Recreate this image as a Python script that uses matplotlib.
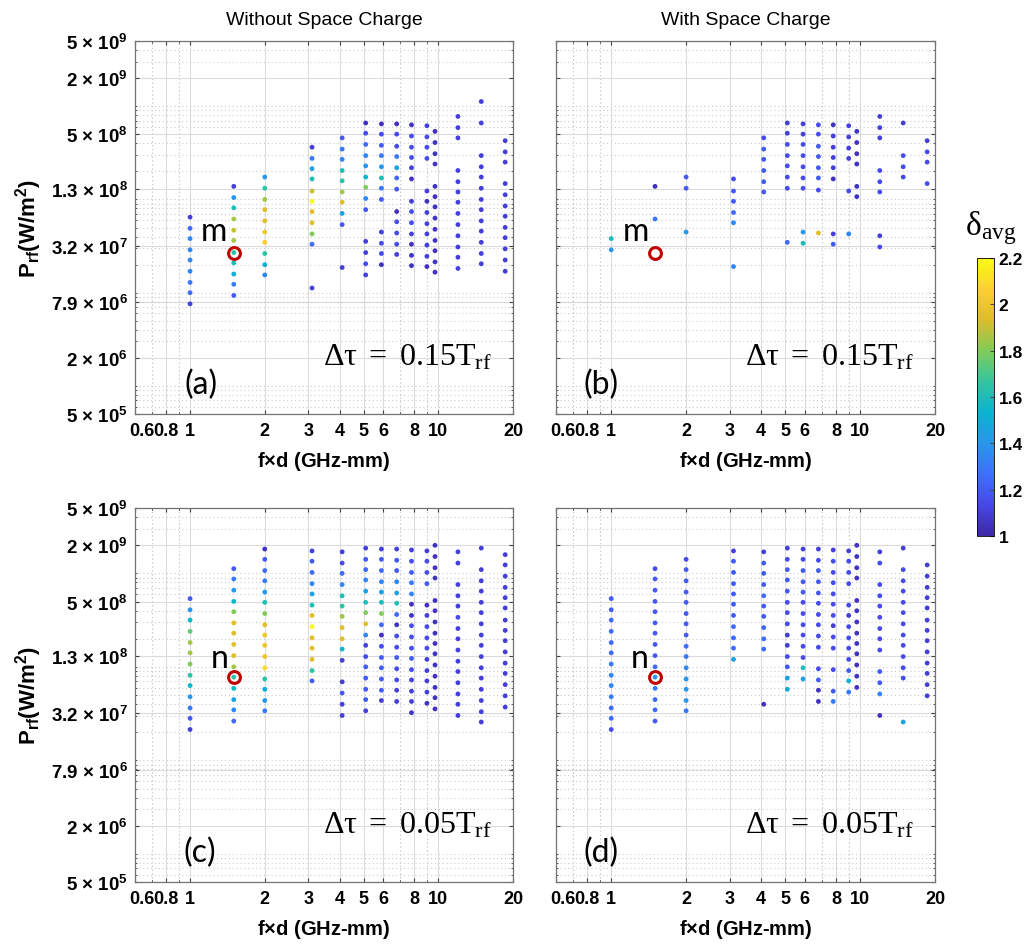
import matplotlib
matplotlib.use("Agg")
import matplotlib.pyplot as plt
import numpy as np
from matplotlib.colors import LinearSegmentedColormap
from matplotlib.ticker import FixedLocator, LogLocator, NullFormatter
from matplotlib.transforms import ScaledTranslation

plt.rcParams['font.family'] = ['Liberation Sans', 'DejaVu Sans']
plt.rcParams['mathtext.fontset'] = 'custom'
plt.rcParams['mathtext.rm'] = 'Liberation Serif'
plt.rcParams['mathtext.it'] = 'Liberation Serif:italic'
plt.rcParams['mathtext.bf'] = 'Liberation Sans:bold'
plt.rcParams['mathtext.default'] = 'bf'

# f x d columns (GHz-mm)
fd = [1.0, 1.5, 2.0, 3.1, 4.1, 5.1, 5.9, 6.8, 7.8, 9.0, 9.7, 12.0, 14.9, 18.6]

# (a) without space charge, dtau = 0.15 Trf : log10(P_rf) per column
logp_a = [
    [7.81, 7.69, 7.58, 7.46, 7.35, 7.23, 7.11, 7.00, 6.88],
    [8.14, 8.02, 7.91, 7.79, 7.67, 7.56, 7.43, 7.32, 7.20, 7.09, 6.97],
    [8.24, 8.12, 8.00, 7.89, 7.77, 7.65, 7.54, 7.42, 7.30, 7.19],
    [8.56, 8.44, 8.33, 8.22, 8.09, 7.98, 7.87, 7.75, 7.63, 7.52, 7.05],
    [8.66, 8.54, 8.43, 8.31, 8.20, 8.08, 7.97, 7.85, 7.73, 7.27],
    [8.82, 8.71, 8.59, 8.47, 8.36, 8.24, 8.13, 8.01, 7.89, 7.55, 7.43, 7.31, 7.19],
    [8.81, 8.70, 8.58, 8.47, 8.35, 8.23, 8.12, 8.00, 7.65, 7.53, 7.42, 7.30],
    [8.81, 8.70, 8.57, 8.46, 8.34, 8.23, 8.11, 7.87, 7.76, 7.64, 7.52, 7.41],
    [8.80, 8.68, 8.56, 8.45, 8.34, 8.22, 7.98, 7.87, 7.75, 7.63, 7.52, 7.40, 7.29],
    [8.79, 8.67, 8.56, 8.44, 8.09, 7.98, 7.86, 7.74, 7.63, 7.51, 7.39, 7.28],
    [8.73, 8.61, 8.49, 8.38, 8.14, 8.03, 7.92, 7.80, 7.68, 7.56, 7.45, 7.33, 7.22],
    [8.89, 8.77, 8.66, 8.31, 8.19, 8.08, 7.97, 7.85, 7.73, 7.61, 7.49, 7.38, 7.26],
    [9.05, 8.82, 8.47, 8.35, 8.24, 8.12, 8.00, 7.89, 7.77, 7.66, 7.54, 7.42, 7.31],
    [8.63, 8.51, 8.40, 8.17, 8.05, 7.93, 7.82, 7.70, 7.59, 7.47, 7.35, 7.23],
]
delta_a = [
    [1.10, 1.25, 1.35, 1.35, 1.35, 1.35, 1.30, 1.25, 1.10],
    [1.10, 1.40, 1.60, 1.85, 1.90, 1.85, 1.65, 1.60, 1.50, 1.30, 1.20],
    [1.40, 1.65, 1.85, 1.95, 1.95, 2.00, 2.05, 1.65, 1.50, 1.35],
    [1.10, 1.30, 1.45, 1.60, 1.90, 2.20, 1.95, 1.95, 1.80, 1.25, 1.10],
    [1.20, 1.30, 1.35, 1.60, 1.65, 1.85, 1.95, 1.45, 1.20, 1.10],
    [1.05, 1.15, 1.25, 1.35, 1.40, 1.55, 1.80, 1.35, 1.20, 1.10, 1.10, 1.15, 1.10],
    [1.05, 1.15, 1.20, 1.30, 1.40, 1.60, 1.30, 1.20, 1.10, 1.15, 1.15, 1.05],
    [1.05, 1.15, 1.15, 1.30, 1.45, 1.25, 1.20, 1.05, 1.15, 1.15, 1.15, 1.10],
    [1.05, 1.15, 1.15, 1.15, 1.10, 1.05, 1.10, 1.15, 1.15, 1.10, 1.05, 1.05, 1.05],
    [1.10, 1.15, 1.15, 1.15, 1.10, 1.05, 1.10, 1.10, 1.10, 1.10, 1.10, 1.05],
    [1.05, 1.05, 1.05, 1.05, 1.05, 1.05, 1.05, 1.05, 1.05, 1.05, 1.05, 1.05, 1.05],
    [1.10, 1.10, 1.10, 1.10, 1.10, 1.10, 1.10, 1.10, 1.10, 1.10, 1.10, 1.10, 1.10],
    [1.10, 1.10, 1.10, 1.10, 1.10, 1.10, 1.10, 1.10, 1.10, 1.10, 1.10, 1.10, 1.10],
    [1.10, 1.10, 1.10, 1.10, 1.10, 1.10, 1.10, 1.10, 1.10, 1.10, 1.10, 1.10],
]

# (b) with space charge, dtau = 0.15 Trf
logp_b = [
    [7.58, 7.46],
    [8.14, 7.79],
    [8.24, 8.12, 7.65],
    [8.22, 8.09, 7.98, 7.86, 7.75, 7.28],
    [8.66, 8.54, 8.43, 8.31, 8.19, 8.08],
    [8.82, 8.71, 8.59, 8.47, 8.36, 8.24, 8.12, 7.54],
    [8.81, 8.70, 8.59, 8.47, 8.35, 8.23, 8.12, 7.65, 7.53],
    [8.80, 8.70, 8.57, 8.46, 8.34, 8.23, 8.10, 7.64],
    [8.80, 8.68, 8.56, 8.45, 8.34, 8.22, 7.63, 7.52],
    [8.79, 8.67, 8.55, 8.44, 8.09, 7.63],
    [8.73, 8.61, 8.49, 8.38, 8.14, 8.03],
    [8.89, 8.77, 8.66, 8.31, 8.19, 8.08, 7.61, 7.49],
    [8.82, 8.47, 8.35, 8.24],
    [8.63, 8.51, 8.40, 8.17],
]
delta_b = [
    [1.60, 1.40],
    [1.05, 1.30],
    [1.20, 1.20, 1.40],
    [1.15, 1.20, 1.20, 1.25, 1.35, 1.35],
    [1.15, 1.20, 1.20, 1.20, 1.20, 1.20],
    [1.10, 1.10, 1.15, 1.15, 1.15, 1.15, 1.15, 1.25],
    [1.10, 1.10, 1.15, 1.15, 1.15, 1.15, 1.15, 1.40, 1.60],
    [1.15, 1.15, 1.20, 1.20, 1.20, 1.20, 1.15, 1.95],
    [1.05, 1.10, 1.10, 1.10, 1.10, 1.05, 1.10, 1.20],
    [1.10, 1.10, 1.10, 1.10, 1.15, 1.35],
    [1.05, 1.05, 1.05, 1.05, 1.05, 1.05],
    [1.10, 1.10, 1.10, 1.15, 1.15, 1.15, 1.10, 1.15],
    [1.10, 1.15, 1.15, 1.15],
    [1.10, 1.15, 1.15, 1.15],
]

# (c) without space charge, dtau = 0.05 Trf
logp_c = [
    [8.73, 8.61, 8.50, 8.38, 8.26, 8.15, 8.03, 7.91, 7.80, 7.68, 7.56, 7.45, 7.33],
    [9.05, 8.94, 8.82, 8.70, 8.59, 8.47, 8.36, 8.24, 8.12, 8.00, 7.89, 7.77, 7.65, 7.54, 7.42],
    [9.26, 9.15, 9.03, 8.92, 8.80, 8.69, 8.57, 8.45, 8.34, 8.23, 8.11, 7.99, 7.87, 7.76, 7.64, 7.53],
    [9.24, 9.13, 9.01, 8.89, 8.78, 8.66, 8.55, 8.43, 8.31, 8.20, 8.08, 7.96, 7.85],
    [9.23, 9.11, 9.00, 8.88, 8.76, 8.65, 8.54, 8.42, 8.30, 8.19, 8.07, 7.84, 7.72, 7.60, 7.48],
    [9.27, 9.15, 9.04, 8.93, 8.81, 8.69, 8.58, 8.46, 8.34, 8.23, 8.11, 8.00, 7.88, 7.76, 7.65, 7.53],
    [9.26, 9.15, 9.03, 8.91, 8.80, 8.69, 8.57, 8.45, 8.34, 8.22, 8.10, 7.99, 7.87, 7.75, 7.64],
    [9.26, 9.14, 9.03, 8.91, 8.79, 8.68, 8.56, 8.45, 8.33, 8.21, 8.10, 7.98, 7.86, 7.75, 7.63],
    [9.25, 9.13, 9.01, 8.90, 8.78, 8.67, 8.55, 8.44, 8.32, 8.20, 8.09, 7.97, 7.86, 7.74, 7.63, 7.51],
    [9.24, 9.13, 9.01, 8.89, 8.66, 8.55, 8.43, 8.31, 8.20, 8.08, 7.96, 7.85, 7.73, 7.61],
    [9.30, 9.18, 9.06, 8.95, 8.71, 8.60, 8.48, 8.36, 8.25, 8.14, 8.02, 7.90, 7.78, 7.67, 7.55],
    [9.23, 9.11, 8.88, 8.76, 8.65, 8.53, 8.41, 8.30, 8.18, 8.06, 7.95, 7.83, 7.71, 7.60, 7.48],
    [9.27, 9.04, 8.92, 8.81, 8.69, 8.58, 8.46, 8.34, 8.23, 8.11, 7.99, 7.88, 7.76, 7.64, 7.52, 7.41],
    [9.20, 9.09, 8.97, 8.85, 8.74, 8.63, 8.50, 8.39, 8.28, 8.16, 8.04, 7.93, 7.81, 7.69, 7.57],
]
delta_c = [
    [1.20, 1.40, 1.55, 1.75, 1.85, 1.85, 1.80, 1.65, 1.55, 1.40, 1.30, 1.20, 1.10],
    [1.20, 1.30, 1.40, 1.55, 1.80, 1.95, 1.95, 1.95, 1.95, 1.85, 1.65, 1.55, 1.45, 1.35, 1.25],
    [1.05, 1.20, 1.25, 1.30, 1.40, 1.60, 1.80, 1.95, 2.00, 2.00, 2.00, 2.10, 1.65, 1.50, 1.40, 1.30],
    [1.10, 1.20, 1.25, 1.35, 1.45, 1.60, 1.95, 2.20, 1.95, 1.95, 1.95, 1.65, 1.20],
    [1.10, 1.15, 1.25, 1.35, 1.60, 1.65, 1.85, 1.95, 1.95, 1.55, 1.10, 1.10, 1.20, 1.10, 1.10],
    [1.10, 1.20, 1.25, 1.35, 1.45, 1.60, 1.80, 1.95, 1.35, 1.10, 1.15, 1.20, 1.20, 1.20, 1.20, 1.10],
    [1.10, 1.20, 1.25, 1.35, 1.45, 1.60, 1.80, 1.25, 1.05, 1.15, 1.20, 1.20, 1.20, 1.20, 1.10],
    [1.10, 1.20, 1.20, 1.35, 1.45, 1.60, 1.25, 1.05, 1.15, 1.15, 1.20, 1.15, 1.15, 1.10, 1.10],
    [1.10, 1.15, 1.20, 1.30, 1.35, 1.05, 1.05, 1.15, 1.15, 1.15, 1.20, 1.15, 1.10, 1.10, 1.10, 1.05],
    [1.10, 1.15, 1.15, 1.20, 1.05, 1.10, 1.15, 1.15, 1.15, 1.10, 1.10, 1.10, 1.10, 1.05],
    [1.05, 1.05, 1.05, 1.05, 1.05, 1.05, 1.05, 1.05, 1.05, 1.05, 1.05, 1.05, 1.05, 1.05, 1.05],
    [1.10, 1.10, 1.10, 1.10, 1.10, 1.15, 1.10, 1.10, 1.10, 1.10, 1.10, 1.10, 1.10, 1.10, 1.10],
    [1.10, 1.10, 1.10, 1.10, 1.10, 1.10, 1.10, 1.10, 1.10, 1.10, 1.10, 1.10, 1.10, 1.10, 1.10, 1.10],
    [1.10, 1.10, 1.10, 1.10, 1.10, 1.10, 1.10, 1.10, 1.10, 1.10, 1.10, 1.10, 1.10, 1.10, 1.10],
]

# (d) with space charge, dtau = 0.05 Trf
logp_d = [
    [8.73, 8.61, 8.50, 8.38, 8.26, 8.15, 8.03, 7.91, 7.80, 7.68, 7.56, 7.45, 7.33],
    [9.05, 8.94, 8.82, 8.70, 8.59, 8.47, 8.36, 8.24, 8.12, 8.00, 7.89, 7.77, 7.65, 7.54, 7.42],
    [9.15, 9.04, 8.92, 8.80, 8.69, 8.57, 8.46, 8.34, 8.22, 8.11, 7.99, 7.87, 7.76, 7.64, 7.53],
    [9.24, 9.13, 9.01, 8.89, 8.78, 8.67, 8.55, 8.43, 8.31, 8.20, 8.08],
    [9.23, 9.11, 9.00, 8.88, 8.76, 8.65, 8.54, 8.42, 8.30, 8.19, 7.60],
    [9.27, 9.15, 9.04, 8.93, 8.81, 8.69, 8.58, 8.46, 8.34, 8.23, 8.11, 8.00, 7.88, 7.76],
    [9.26, 9.15, 9.03, 8.91, 8.80, 8.69, 8.57, 8.45, 8.34, 8.22, 8.10, 7.99, 7.87],
    [9.26, 9.14, 9.03, 8.91, 8.79, 8.68, 8.56, 8.45, 8.33, 8.21, 7.98, 7.86, 7.75, 7.63],
    [9.25, 9.13, 9.01, 8.90, 8.78, 8.67, 8.55, 8.44, 8.32, 8.20, 7.97, 7.74, 7.63],
    [9.24, 9.13, 9.01, 8.89, 8.66, 8.55, 8.43, 8.31, 8.20, 8.08, 7.96, 7.85, 7.73],
    [9.30, 9.18, 9.06, 8.95, 8.71, 8.60, 8.48, 8.36, 8.25, 8.14, 8.02, 7.90, 7.78],
    [9.23, 9.11, 8.88, 8.76, 8.65, 8.53, 8.41, 8.30, 8.18, 7.95, 7.83, 7.71, 7.48],
    [9.27, 9.04, 8.92, 8.81, 8.69, 8.58, 8.46, 8.34, 8.23, 8.11, 7.99, 7.88, 7.41],
    [9.09, 8.97, 8.85, 8.74, 8.63, 8.50, 8.39, 8.28, 8.16, 8.04, 7.93, 7.81, 7.69],
]
delta_d = [
    [1.20, 1.20, 1.25, 1.25, 1.25, 1.25, 1.30, 1.35, 1.35, 1.30, 1.25, 1.25, 1.15],
    [1.15, 1.20, 1.20, 1.20, 1.20, 1.20, 1.20, 1.20, 1.20, 1.25, 1.40, 1.30, 1.25, 1.25, 1.20],
    [1.15, 1.20, 1.20, 1.20, 1.20, 1.20, 1.20, 1.20, 1.25, 1.30, 1.35, 1.40, 1.40, 1.40, 1.30],
    [1.10, 1.20, 1.20, 1.20, 1.20, 1.20, 1.20, 1.25, 1.25, 1.25, 1.45],
    [1.10, 1.20, 1.20, 1.20, 1.25, 1.20, 1.20, 1.25, 1.25, 1.25, 1.05],
    [1.10, 1.15, 1.20, 1.20, 1.20, 1.15, 1.15, 1.15, 1.10, 1.10, 1.15, 1.20, 1.45, 1.50],
    [1.10, 1.15, 1.20, 1.20, 1.20, 1.15, 1.15, 1.15, 1.15, 1.15, 1.15, 1.60, 1.45],
    [1.10, 1.15, 1.20, 1.20, 1.20, 1.15, 1.15, 1.15, 1.15, 1.15, 1.15, 1.20, 1.05, 1.05],
    [1.10, 1.15, 1.15, 1.15, 1.15, 1.15, 1.15, 1.10, 1.15, 1.15, 1.15, 1.20, 1.30],
    [1.10, 1.15, 1.15, 1.15, 1.15, 1.10, 1.15, 1.15, 1.15, 1.15, 1.20, 1.50, 1.30],
    [1.05, 1.05, 1.05, 1.05, 1.05, 1.05, 1.05, 1.05, 1.05, 1.05, 1.05, 1.05, 1.05],
    [1.10, 1.15, 1.15, 1.15, 1.15, 1.15, 1.15, 1.15, 1.15, 1.20, 1.20, 1.35, 1.05],
    [1.10, 1.15, 1.15, 1.15, 1.15, 1.15, 1.15, 1.15, 1.15, 1.15, 1.15, 1.15, 1.45],
    [1.10, 1.10, 1.10, 1.10, 1.10, 1.10, 1.10, 1.10, 1.10, 1.10, 1.10, 1.10, 1.10],
]

# highlighted cases m and n
mark_fd = 1.5
mark_m_logp = 7.43
mark_n_logp = 7.89

ytick_vals = [5e5, 2e6, 7.9e6, 3.2e7, 1.3e8, 5e8, 2e9, 5e9]
ytick_labels = ['5 × 10$^{5}$', '2 × 10$^{6}$', '7.9 × 10$^{6}$',
                '3.2 × 10$^{7}$', '1.3 × 10$^{8}$', '5 × 10$^{8}$',
                '2 × 10$^{9}$', '5 × 10$^{9}$']
xtick_vals = [0.6, 0.8, 1, 2, 3, 4, 5, 6, 8, 10, 20]
xtick_labels = ['0.6', '0.8', '1', '2', '3', '4', '5', '6', '8', '10', '20']
cbar_ticks = [1, 1.2, 1.4, 1.6, 1.8, 2, 2.2]

parula = LinearSegmentedColormap.from_list('parula', [
    (0.2422, 0.1504, 0.6603), (0.2803, 0.2782, 0.9221), (0.2440, 0.4358, 0.9988),
    (0.1540, 0.5902, 0.9218), (0.0297, 0.7082, 0.8163), (0.1938, 0.7758, 0.6251),
    (0.5044, 0.7993, 0.3480), (0.8634, 0.7406, 0.1596), (0.9892, 0.8136, 0.1885),
    (0.9769, 0.9839, 0.0805)])

fig = plt.figure(figsize=(10.27, 9.45), dpi=100)
W, H = 1027, 945
boxes = {'a': (135, 42, 513, 415), 'b': (556, 42, 935, 415),
         'c': (135, 509, 513, 883), 'd': (556, 509, 935, 883)}

def make_ax(key):
    l, t, r, b = boxes[key]
    return fig.add_axes([l / W, 1 - b / H, (r - l) / W, (b - t) / H])

def panel(ax, logp, delta, tag, dtau, lab, lab_xy, mark_logp, tag_x):
    xs, ys, cs = [], [], []
    for f, lp, dl in zip(fd, logp, delta):
        assert len(lp) == len(dl)
        xs += [f] * len(lp)
        ys += [10 ** v for v in lp]
        cs += dl
    ax.set_xscale('log')
    ax.set_yscale('log')
    ax.set_xlim(0.6, 20)
    ax.set_ylim(5e5, 5e9)
    ax.set_axisbelow(True)
    ax.grid(True, which='major', color='0.86', lw=0.8, ls='-')
    ax.grid(True, which='minor', color='0.80', lw=0.8, ls=(0, (1, 2.5)))
    sc = ax.scatter(xs, ys, c=cs, cmap=parula, vmin=1, vmax=2.2, s=12,
                    edgecolors='none', zorder=3)
    ax.plot([mark_fd], [10 ** mark_logp], 'o', mfc='none', mec='#c00000',
            ms=8.5, mew=2.2, zorder=4)
    ax.xaxis.set_major_locator(FixedLocator(xtick_vals))
    ax.xaxis.set_minor_locator(LogLocator(base=10, subs=(0.7, 0.9, 7, 9)))
    ax.xaxis.set_minor_formatter(NullFormatter())
    ax.yaxis.set_major_locator(FixedLocator(ytick_vals))
    ax.yaxis.set_minor_locator(LogLocator(base=10, subs=np.arange(1, 10)))
    ax.yaxis.set_minor_formatter(NullFormatter())
    ax.tick_params(which='both', direction='in', top=True, right=True,
                   color='0.25', length=3)
    ax.tick_params(which='minor', length=1.5)
    ax.tick_params(axis='x', which='major', pad=6)
    ax.tick_params(axis='y', which='major', pad=5)
    ax.set_xticklabels(xtick_labels, fontweight='bold', fontsize=13)
    ax.set_yticklabels(ytick_labels, fontweight='bold', fontsize=13.5)
    # the 0.6 label sits a little right of the axis corner
    first = ax.get_xticklabels()[0]
    first.set_transform(first.get_transform() +
                        ScaledTranslation(7 / 100, 0, fig.dpi_scale_trans))
    for s in ax.spines.values():
        s.set_color('0.45')
        s.set_linewidth(0.9)
    ax.set_xlabel(r'f$\times$d (GHz-mm)', fontweight='bold', fontsize=14.5, labelpad=7)
    ax.text(tag_x, 0.08, tag, transform=ax.transAxes, family=['Lato', 'DejaVu Sans'],
            fontsize=23, ha='center', va='center')
    ax.text(0.945, 0.155, r'$\mathrm{\Delta\tau\ =\ ' + dtau + r'T_{rf}}$',
            transform=ax.transAxes, fontsize=23, ha='right', va='center')
    ax.text(lab_xy[0], lab_xy[1], lab, transform=ax.transAxes,
            family=['Lato', 'DejaVu Sans'], fontsize=23, ha='center', va='center')
    return sc

ax_a = make_ax('a')
ax_b = make_ax('b')
ax_c = make_ax('c')
ax_d = make_ax('d')
sc = panel(ax_a, logp_a, delta_a, '(a)', '0.15', 'm', (0.21, 0.49), mark_m_logp, 0.174)
panel(ax_b, logp_b, delta_b, '(b)', '0.15', 'm', (0.21, 0.49), mark_m_logp, 0.119)
panel(ax_c, logp_c, delta_c, '(c)', '0.05', 'n', (0.223, 0.598), mark_n_logp, 0.172)
panel(ax_d, logp_d, delta_d, '(d)', '0.05', 'n', (0.222, 0.598), mark_n_logp, 0.119)

for ax in (ax_b, ax_d):
    ax.set_yticklabels([])
for ax in (ax_a, ax_c):
    ax.set_ylabel(r'P$_{rf}$(W/m$^{2}$)', fontweight='bold', fontsize=16, labelpad=5)

ax_a.set_title('Without Space Charge', fontsize=14, pad=12)
ax_b.set_title('With Space Charge', fontsize=14, pad=12)

cax = fig.add_axes([977 / W, 1 - 537 / H, 17 / W, 278 / H])
cb = fig.colorbar(sc, cax=cax, ticks=cbar_ticks)
cb.ax.set_yticklabels(['1', '1.2', '1.4', '1.6', '1.8', '2', '2.2'],
                      fontweight='bold', fontsize=12.5)
cb.ax.tick_params(direction='in', length=3, color='0.3')
cb.outline.set_linewidth(0.6)
fig.text(991 / W, 1 - 228 / H, r'$\mathrm{\delta_{avg}}$', fontsize=24,
         ha='center', va='center')

fig.savefig('out.png', dpi=100)
